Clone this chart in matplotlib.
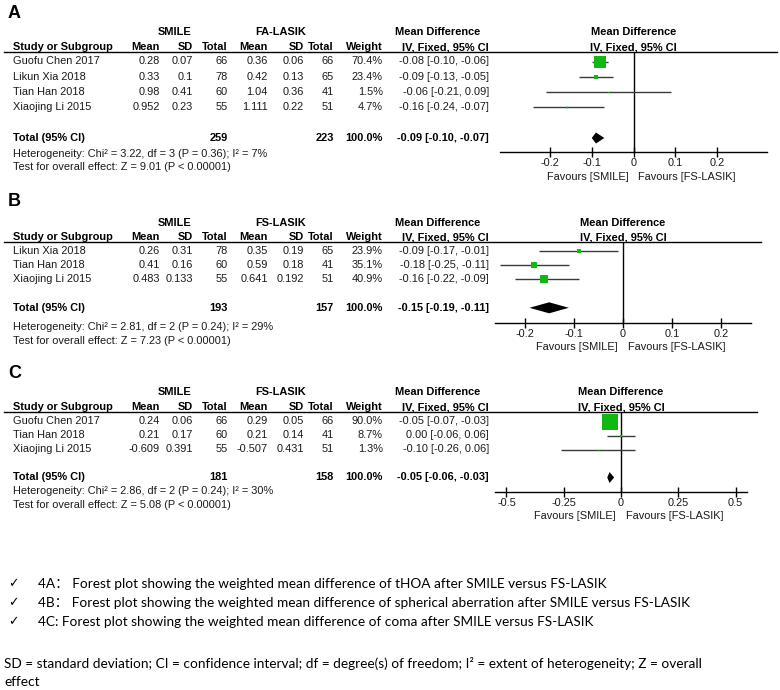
import matplotlib.pyplot as plt
from matplotlib.lines import Line2D
from matplotlib.transforms import blended_transform_factory

# ---- data ----
# panel A: tHOA
studies_a = ["Guofu Chen 2017", "Likun Xia 2018", "Tian Han 2018", "Xiaojing Li 2015"]
smile_mean_a = [0.28, 0.33, 0.98, 0.952]
smile_sd_a = [0.07, 0.1, 0.41, 0.23]
smile_n_a = [66, 78, 60, 55]
lasik_mean_a = [0.36, 0.42, 1.04, 1.111]
lasik_sd_a = [0.06, 0.13, 0.36, 0.22]
lasik_n_a = [66, 65, 41, 51]
weight_a = [70.4, 23.4, 1.5, 4.7]
md_a = [-0.08, -0.09, -0.06, -0.16]
lo_a = [-0.10, -0.13, -0.21, -0.24]
hi_a = [-0.06, -0.05, 0.09, -0.07]
total_a = [259, 223, -0.09, -0.10, -0.07]
het_a = "Heterogeneity: Chi² = 3.22, df = 3 (P = 0.36); I² = 7%"
test_a = "Test for overall effect: Z = 9.01 (P < 0.00001)"

# panel B: spherical aberration
studies_b = ["Likun Xia 2018", "Tian Han 2018", "Xiaojing Li 2015"]
smile_mean_b = [0.26, 0.41, 0.483]
smile_sd_b = [0.31, 0.16, 0.133]
smile_n_b = [78, 60, 55]
lasik_mean_b = [0.35, 0.59, 0.641]
lasik_sd_b = [0.19, 0.18, 0.192]
lasik_n_b = [65, 41, 51]
weight_b = [23.9, 35.1, 40.9]
md_b = [-0.09, -0.18, -0.16]
lo_b = [-0.17, -0.25, -0.22]
hi_b = [-0.01, -0.11, -0.09]
total_b = [193, 157, -0.15, -0.19, -0.11]
het_b = "Heterogeneity: Chi² = 2.81, df = 2 (P = 0.24); I² = 29%"
test_b = "Test for overall effect: Z = 7.23 (P < 0.00001)"

# panel C: coma
studies_c = ["Guofu Chen 2017", "Tian Han 2018", "Xiaojing Li 2015"]
smile_mean_c = [0.24, 0.21, -0.609]
smile_sd_c = [0.06, 0.17, 0.391]
smile_n_c = [66, 60, 55]
lasik_mean_c = [0.29, 0.21, -0.507]
lasik_sd_c = [0.05, 0.14, 0.431]
lasik_n_c = [66, 41, 51]
weight_c = [90.0, 8.7, 1.3]
md_c = [-0.05, 0.00, -0.10]
lo_c = [-0.07, -0.06, -0.26]
hi_c = [-0.03, 0.06, 0.06]
total_c = [181, 158, -0.05, -0.06, -0.03]
het_c = "Heterogeneity: Chi² = 2.86, df = 2 (P = 0.24); I² = 30%"
test_c = "Test for overall effect: Z = 5.08 (P < 0.00001)"

ticks_ab = [-0.2, -0.1, 0, 0.1, 0.2]
ticklabels_ab = ["-0.2", "-0.1", "0", "0.1", "0.2"]
ticks_c = [-0.5, -0.25, 0, 0.25, 0.5]
ticklabels_c = ["-0.5", "-0.25", "0", "0.25", "0.5"]

captions = [
    "4A： Forest plot showing the weighted mean difference of tHOA after SMILE versus FS-LASIK",
    "4B： Forest plot showing the weighted mean difference of spherical aberration after SMILE versus FS-LASIK",
    "4C: Forest plot showing the weighted mean difference of coma after SMILE versus FS-LASIK",
]
footnote = ["SD = standard deviation; CI = confidence interval; df = degree(s) of freedom; I² = extent of heterogeneity; Z = overall",
            "effect"]

# ---- figure ----
W, H = 780, 690
plt.rcParams['font.family'] = ['Liberation Sans', 'DejaVu Sans']
fig = plt.figure(figsize=(W / 100, H / 100), dpi=100)
GREEN = '#12b812'
FS = 7.9
TXT = '#1a1a1a'


def fx(px):
    return px / W


def fy(py):
    return 1 - py / H


def num(v):
    return f"{v:g}"


def ci(m, l, h):
    return f"{m:.2f} [{l:.2f}, {h:.2f}]"


cols = dict(mean1=160, sd1=193, tot1=228, mean2=268, sd2=304, tot2=334, wt=383, md=489)


def draw_panel(letter, group2, studies, m1, s1, n1, m2, s2, n2, wt, md, lo, hi, tot,
               het, test, ticks, ticklabels, lay):
    left, right, lim = lay['left'], lay['right'], lay['lim']
    zero = (left + right) / 2
    top, bot = lay['line'], lay['axis']
    first, pitch = lay['first'], lay['pitch']

    fig.text(fx(8), fy(lay['letter']), letter, fontsize=13, fontweight='bold', va='center')
    fig.text(fx(175), fy(lay['h1']), "SMILE", fontsize=FS, fontweight='bold', ha='center', va='center')
    fig.text(fx(281), fy(lay['h1']), group2, fontsize=FS, fontweight='bold', ha='center', va='center')
    fig.text(fx(438), fy(lay['h1']), "Mean Difference", fontsize=FS, fontweight='bold', ha='center', va='center')
    fig.text(fx(zero), fy(lay['h1']), "Mean Difference", fontsize=FS, fontweight='bold', ha='center', va='center')
    fig.text(fx(zero), fy(lay['h2']), "IV, Fixed, 95% CI", fontsize=FS, fontweight='bold', ha='center', va='center')
    fig.text(fx(13), fy(lay['h2']), "Study or Subgroup", fontsize=FS, fontweight='bold', va='center')
    for key, lab in [('mean1', 'Mean'), ('sd1', 'SD'), ('tot1', 'Total'), ('mean2', 'Mean'),
                     ('sd2', 'SD'), ('tot2', 'Total'), ('wt', 'Weight'), ('md', 'IV, Fixed, 95% CI')]:
        fig.text(fx(cols[key]), fy(lay['h2']), lab, fontsize=FS, fontweight='bold', ha='right', va='center')
    fig.add_artist(Line2D([fx(4), fx(right + 10)], [fy(top), fy(top)], color='black', lw=1))

    ax = fig.add_axes([fx(left), fy(bot), fx(right - left), (bot - top) / H])
    ax.set_xlim(-lim, lim)
    ax.set_ylim((bot - first) / pitch, (top - first) / pitch)
    ax.patch.set_alpha(0)
    for s in ['top', 'left', 'right']:
        ax.spines[s].set_visible(False)
    ax.spines['bottom'].set_linewidth(1)
    ax.set_yticks([])
    ax.set_xticks(ticks)
    ax.set_xticklabels(ticklabels)
    ax.tick_params(axis='x', direction='inout', length=7, width=1, labelsize=FS, pad=1,
                   labelcolor=TXT)
    ax.axvline(0, color='black', lw=1)

    tr = blended_transform_factory(fig.transFigure, ax.transData)
    n = len(studies)
    for i in range(n):
        row = [(13, studies[i], 'left'), (cols['mean1'], num(m1[i]), 'right'),
               (cols['sd1'], num(s1[i]), 'right'), (cols['tot1'], str(n1[i]), 'right'),
               (cols['mean2'], num(m2[i]), 'right'), (cols['sd2'], num(s2[i]), 'right'),
               (cols['tot2'], str(n2[i]), 'right'), (cols['wt'], f"{wt[i]:.1f}%", 'right'),
               (cols['md'], ci(md[i], lo[i], hi[i]), 'right')]
        for x, t, ha in row:
            ax.text(fx(x), i, t, transform=tr, fontsize=FS, ha=ha, va='center', color=TXT)
        ax.hlines(i, lo[i], hi[i], color='#3a3a3a', lw=1, zorder=2)
        ax.plot(md[i], i, 's', ms=(1 + 0.16 * wt[i]) * 0.72, color=GREEN, mew=0, zorder=3)

    yt = n + 1
    ax.text(fx(13), yt, "Total (95% CI)", transform=tr, fontsize=FS, fontweight='bold', va='center')
    ax.text(fx(cols['tot1']), yt, str(tot[0]), transform=tr, fontsize=FS, fontweight='bold', ha='right', va='center')
    ax.text(fx(cols['tot2']), yt, str(tot[1]), transform=tr, fontsize=FS, fontweight='bold', ha='right', va='center')
    ax.text(fx(cols['wt']), yt, "100.0%", transform=tr, fontsize=FS, fontweight='bold', ha='right', va='center')
    ax.text(fx(cols['md']), yt, ci(tot[2], tot[3], tot[4]), transform=tr, fontsize=FS,
            fontweight='bold', ha='right', va='center')
    h = 5.5 / pitch
    ax.fill([tot[3], tot[2], tot[4], tot[2]], [yt, yt - h, yt, yt + h], color='black', lw=0, zorder=3)

    fig.text(fx(13), fy(lay['het']), het, fontsize=FS, va='center', color=TXT)
    fig.text(fx(13), fy(lay['test']), test, fontsize=FS, va='center', color=TXT)
    fig.text(fx(zero - 5), fy(lay['fav']), "Favours [SMILE]", fontsize=FS, ha='right', va='center', color=TXT)
    fig.text(fx(zero + 5), fy(lay['fav']), "Favours [FS-LASIK]", fontsize=FS, ha='left', va='center', color=TXT)


lay_a = dict(letter=13, h1=32, h2=47, line=52, first=61.5, pitch=15.3, axis=152, fav=177,
             het=154, test=167, left=500, right=767, lim=0.32)
lay_b = dict(letter=202, h1=223, h2=237, line=242, first=251, pitch=14.2, axis=323, fav=347,
             het=327, test=341, left=495, right=751, lim=0.26)
lay_c = dict(letter=373, h1=392, h2=407, line=412, first=421.5, pitch=14, axis=492, fav=516,
             het=491, test=505, left=495, right=747, lim=0.55)

draw_panel("A", "FA-LASIK", studies_a, smile_mean_a, smile_sd_a, smile_n_a, lasik_mean_a, lasik_sd_a,
           lasik_n_a, weight_a, md_a, lo_a, hi_a, total_a, het_a, test_a, ticks_ab, ticklabels_ab, lay_a)
draw_panel("B", "FS-LASIK", studies_b, smile_mean_b, smile_sd_b, smile_n_b, lasik_mean_b, lasik_sd_b,
           lasik_n_b, weight_b, md_b, lo_b, hi_b, total_b, het_b, test_b, ticks_ab, ticklabels_ab, lay_b)
draw_panel("C", "FS-LASIK", studies_c, smile_mean_c, smile_sd_c, smile_n_c, lasik_mean_c, lasik_sd_c,
           lasik_n_c, weight_c, md_c, lo_c, hi_c, total_c, het_c, test_c, ticks_c, ticklabels_c, lay_c)

# captions
cap_font = ['Lato', 'Noto Sans CJK SC', 'DejaVu Sans']
CFS = 9.85
for k, cap in enumerate(captions):
    y = 584 + k * 19
    fig.text(fx(8), fy(y), "✓", fontsize=9, family='DejaVu Sans', va='center')
    fig.text(fx(38), fy(y), cap, fontsize=CFS, family=cap_font, va='center')
fig.text(fx(4), fy(663), footnote[0], fontsize=CFS, family=cap_font, va='center')
fig.text(fx(4), fy(682), footnote[1], fontsize=CFS, family=cap_font, va='center')

fig.savefig('out.png', dpi=100)
